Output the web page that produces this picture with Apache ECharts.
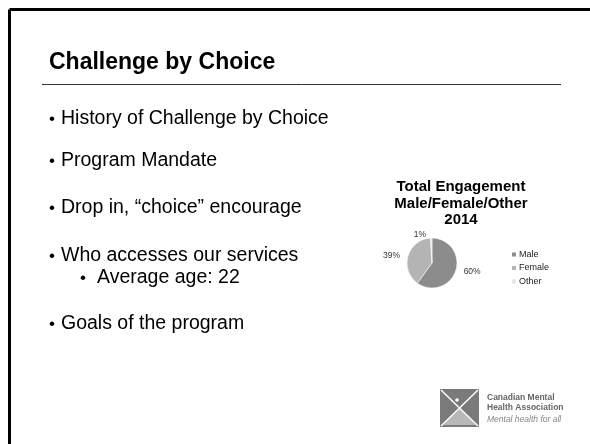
<!DOCTYPE html>
<html><head><meta charset="utf-8">
<script src="https://cdn.jsdelivr.net/npm/echarts@6/dist/echarts.min.js"></script>
<style>html,body{margin:0;padding:0;background:#fff}#c{width:590px;height:444px}</style>
</head><body><div id="c"></div>
<script>
const categories = ['Male', 'Female', 'Other'];
const values = [60, 39, 1];
const pieColors = ['#8c8c8c', '#b4b4b4', '#e6e6e6'];
const chartTitle = 'Total Engagement\nMale/Female/Other\n2014';
const slideTitle = 'Challenge by Choice';
const bullets = [
  {text: 'History of Challenge by Choice', level: 0},
  {text: 'Program Mandate', level: 0},
  {text: 'Drop in, \u201cchoice\u201d encourage', level: 0},
  {text: 'Who accesses our services', level: 0},
  {text: 'Average age: 22', level: 1},
  {text: 'Goals of the program', level: 0}
];
const bulletY = [119, 161, 208, 256, 278, 324];

const FONT = 'Liberation Sans, Arial, sans-serif';
const chart = echarts.init(document.getElementById('c'));
const g = [];
// slide border
g.push({type:'line', shape:{x1:9.5,y1:9.5,x2:590,y2:9.5}, style:{stroke:'#000',lineWidth:3}});
g.push({type:'line', shape:{x1:9.5,y1:9.5,x2:9.5,y2:444}, style:{stroke:'#000',lineWidth:3}});
// slide title
g.push({type:'text', x:49, y:63, style:{text:slideTitle, font:'bold 23px '+FONT, fill:'#000', textVerticalAlign:'middle'}});
g.push({type:'line', shape:{x1:42,y1:84.5,x2:561,y2:84.5}, style:{stroke:'#333',lineWidth:1}});
bullets.forEach((b,i)=>{
  const bx = b.level ? 80 : 49, tx = b.level ? 97 : 61;
  g.push({type:'text', x:bx, y:bulletY[i], style:{text:'\u2022', font:'17px '+FONT, fill:'#000', textVerticalAlign:'middle'}});
  g.push({type:'text', x:tx, y:bulletY[i], style:{text:b.text, font:'19.5px '+FONT, fill:'#000', textVerticalAlign:'middle'}});
});
// logo
g.push({type:'rect', shape:{x:440,y:389,width:39,height:38}, style:{fill:'#7a7a7a'}});
g.push({type:'polygon', shape:{points:[[443,425],[459.5,408],[476,425]]}, style:{fill:'#b8b8b8'}});
g.push({type:'line', shape:{x1:441,y1:390,x2:478,y2:426}, style:{stroke:'#fff',lineWidth:1.5}});
g.push({type:'line', shape:{x1:478,y1:390,x2:441,y2:426}, style:{stroke:'#fff',lineWidth:1.5}});
g.push({type:'circle', shape:{cx:457,cy:400,r:1.8}, style:{fill:'#fff'}});
g.push({type:'text', x:487, y:398, style:{text:'Canadian Mental', font:'bold 8.5px '+FONT, fill:'#666', textVerticalAlign:'middle'}});
g.push({type:'text', x:487, y:408, style:{text:'Health Association', font:'bold 8.5px '+FONT, fill:'#666', textVerticalAlign:'middle'}});
g.push({type:'text', x:487, y:420, style:{text:'Mental health for all', font:'italic 8.5px '+FONT, fill:'#888', textVerticalAlign:'middle'}});

chart.setOption({
  animation:false,
  backgroundColor:'#fff',
  title:{text:chartTitle, left:456, top:174, textAlign:'center',
    textStyle:{fontFamily:FONT, fontWeight:'bold', fontSize:15, lineHeight:16.5, color:'#000'}},
  legend:{orient:'vertical', left:505, top:245, icon:'rect', itemWidth:6, itemHeight:6, itemGap:4.5,
    textStyle:{fontFamily:FONT, fontSize:9, color:'#222', padding:[0,0,0,-3]}, data:categories},
  series:[{type:'pie', center:[432,263], radius:25, startAngle:90, clockwise:true,
    data:categories.map((c,i)=>({name:c, value:values[i], itemStyle:{color:pieColors[i]}})),
    label:{show:true, formatter:'{d}%', fontFamily:FONT, fontSize:8.5, color:'#333', position:'outside'},
    labelLine:{show:false, length:3, length2:0},
    itemStyle:{borderColor:'#fff', borderWidth:0.5}
  }],
  graphic:g
});
</script></body></html>
